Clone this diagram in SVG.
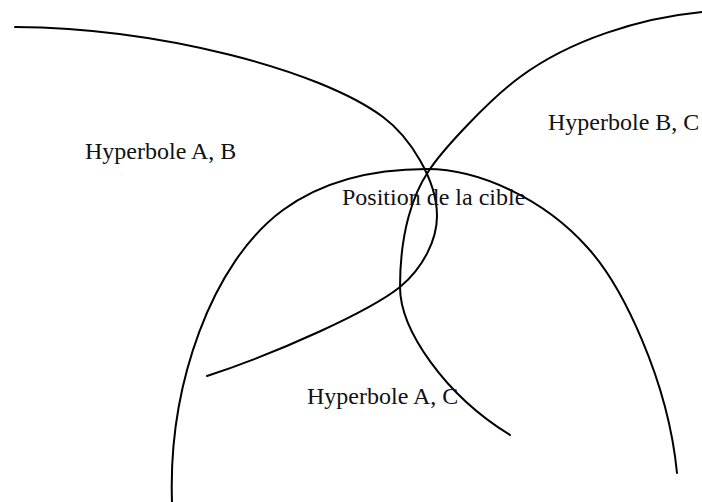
<svg xmlns="http://www.w3.org/2000/svg" width="702" height="502" viewBox="0 0 702 502">
<style>
.c{fill:none;stroke:#000;stroke-width:2;stroke-linecap:round}
.t{font-family:"Liberation Serif","Times New Roman",serif;font-size:24px;fill:#111}
</style>
<rect width="702" height="502" fill="#fff"/>
<g id="connectors">
<path id="hyp-ab" class="c" d="M15,27 C160,28 320,70 383,117 C410,137 437,180 437,216 C437,240 423,268 400,287 C370,311 280,352 207,376"/>
<path id="hyp-bc" class="c" d="M702,12 C640,18 570,40 520,77 C490,99 442,150 428,172 C414,193 400,230 400,287 C400,330 445,395 510,435"/>
<path id="hyp-ac" class="c" d="M172,502 C168,385 212,262 283,210 C320,183 370,169 427,169 C480,169 545,200 587,247 C622,285 668,380 677,473"/>
</g>
<g id="label-ab"><text class="t" x="85" y="159">Hyperbole A, B</text></g>
<g id="label-bc"><text class="t" x="548" y="130">Hyperbole B, C</text></g>
<g id="label-ac"><text class="t" x="307" y="404">Hyperbole A, C</text></g>
<g id="label-target"><text class="t" x="342" y="205">Position de la cible</text></g>
</svg>
